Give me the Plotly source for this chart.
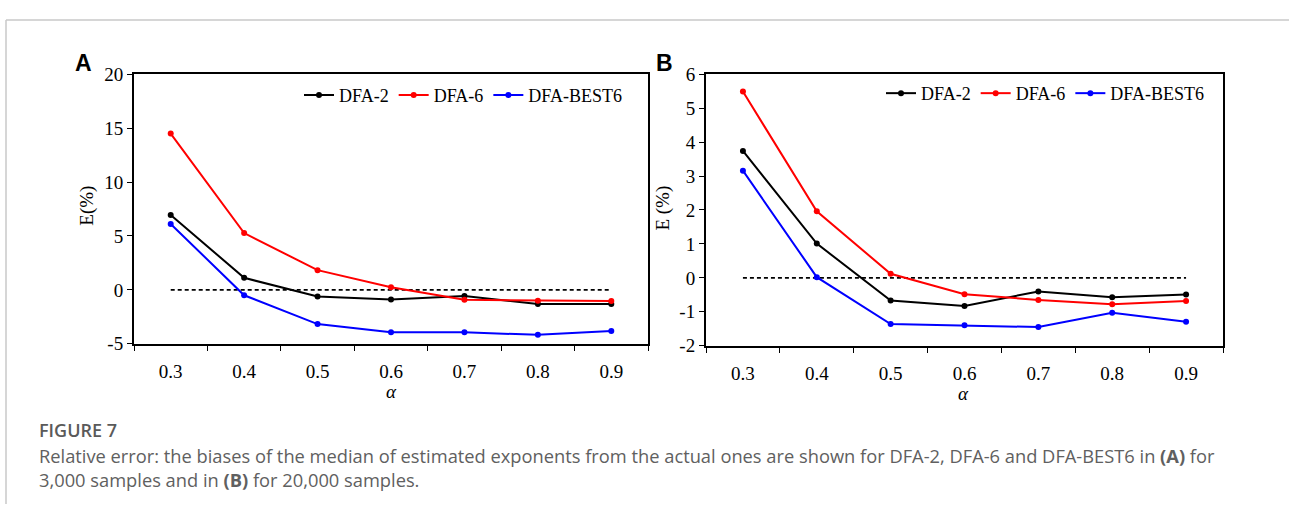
import plotly.graph_objects as go

alpha = [0.3, 0.4, 0.5, 0.6, 0.7, 0.8, 0.9]
alpha_labels = ["0.3", "0.4", "0.5", "0.6", "0.7", "0.8", "0.9"]
bounds = [0.25, 0.35, 0.45, 0.55, 0.65, 0.75, 0.85, 0.95]

# y ticks (hyphen minus as in the original)
a_yticks = [-5, 0, 5, 10, 15, 20]
a_ylabels = ["-5", "0", "5", "10", "15", "20"]
b_yticks = [-2, -1, 0, 1, 2, 3, 4, 5, 6]
b_ylabels = ["-2", "-1", "0", "1", "2", "3", "4", "5", "6"]

# Panel A (3,000 samples)
a_dfa2 = [6.95, 1.12, -0.62, -0.89, -0.56, -1.30, -1.30]
a_dfa6 = [14.5, 5.27, 1.83, 0.24, -0.92, -1.00, -1.04]
a_best6 = [6.12, -0.50, -3.17, -3.93, -3.93, -4.17, -3.82]

# Panel B (20,000 samples)
b_dfa2 = [3.74, 1.01, -0.67, -0.83, -0.40, -0.57, -0.49]
b_dfa6 = [5.49, 1.96, 0.12, -0.48, -0.65, -0.78, -0.68]
b_best6 = [3.16, 0.02, -1.36, -1.40, -1.45, -1.03, -1.29]

zero = [0, 0, 0, 0, 0, 0, 0]

names = ["DFA-2", "DFA-6", "DFA-BEST6"]
colors = ["#000000", "#ff0000", "#0000ff"]

SERIF = "Liberation Serif, Times New Roman, serif"
W, H = 1289, 515

def px_x(p):
    return p / W

def px_y(p):
    return 1 - p / H

fig = go.Figure()

for panel, (series, xa, ya, lg) in enumerate([
        ([a_dfa2, a_dfa6, a_best6], "x", "y", "legend"),
        ([b_dfa2, b_dfa6, b_best6], "x2", "y2", "legend2")]):
    fig.add_trace(go.Scatter(x=alpha, y=zero, mode="lines", xaxis=xa, yaxis=ya,
                             line=dict(color="black", width=1.6, dash="4px,3px"),
                             showlegend=False, hoverinfo="skip"))
    for vals, name, c in zip(series, names, colors):
        fig.add_trace(go.Scatter(x=alpha, y=vals, name=name, mode="lines+markers",
                                 xaxis=xa, yaxis=ya, legend=lg,
                                 line=dict(color=c, width=2),
                                 marker=dict(color=c, size=6)))

def xaxis_cfg(x0, x1, anchor):
    return dict(domain=[px_x(x0), px_x(x1)], range=[0.25, 0.95], anchor=anchor,
                tickmode="array", tickvals=alpha, ticktext=alpha_labels,
                ticks="outside", ticklen=9, tickcolor="rgba(0,0,0,0)",
                tickfont=dict(family=SERIF, size=19, color="black"),
                showgrid=False, zeroline=False, showline=True, mirror=True,
                linecolor="black", linewidth=2,
                minor=dict(tickmode="array", tickvals=bounds, ticks="outside",
                           ticklen=5, tickcolor="black", tickwidth=1, showgrid=False))

def yaxis_cfg(y0, y1, rng, tv, tt, anchor):
    return dict(domain=[px_y(y1), px_y(y0)], range=rng, anchor=anchor,
                tickmode="array", tickvals=tv, ticktext=tt,
                ticks="outside", ticklen=5, tickcolor="black",
                tickfont=dict(family=SERIF, size=19, color="black"),
                showgrid=False, zeroline=False, showline=True, mirror=True,
                linecolor="black", linewidth=2)

legend_common = dict(orientation="h", font=dict(family=SERIF, size=18, color="black"),
                     bgcolor="rgba(0,0,0,0)", itemwidth=30, tracegroupgap=0,
                     xanchor="right", yanchor="middle", xref="paper", yref="paper")

fig.update_layout(
    width=W, height=H, margin=dict(l=0, r=0, t=0, b=0),
    paper_bgcolor="white", plot_bgcolor="white",
    xaxis=xaxis_cfg(134, 648, "y"),
    yaxis=yaxis_cfg(67, 348, [-5, 20], a_yticks, a_ylabels, "x"),
    xaxis2=xaxis_cfg(706, 1223, "y2"),
    yaxis2=yaxis_cfg(67, 350, [-2, 6], b_yticks, b_ylabels, "x2"),
    legend=dict(x=px_x(628), y=px_y(89), **legend_common),
    legend2=dict(x=px_x(1210), y=px_y(87), **legend_common),
)

# outer frame lines
fig.add_shape(type="line", xref="paper", yref="paper", x0=px_x(6), x1=1, y0=px_y(10.5), y1=px_y(10.5),
              line=dict(color="#c8c8c8", width=1.5))
fig.add_shape(type="line", xref="paper", yref="paper", x0=px_x(6), x1=px_x(6), y0=0, y1=px_y(10.5),
              line=dict(color="#c8c8c8", width=1.5))

ann = []
ann.append(dict(text="<b>A</b>", x=px_x(83), y=px_y(55), font=dict(family="Liberation Sans, Arial", size=23, color="black")))
ann.append(dict(text="<b>B</b>", x=px_x(664), y=px_y(55), font=dict(family="Liberation Sans, Arial", size=23, color="black")))
ann.append(dict(text="E(%)", x=px_x(87), y=px_y(204), textangle=-90, font=dict(family=SERIF, size=19, color="black")))
ann.append(dict(text="E (%)", x=px_x(663), y=px_y(207), textangle=-90, font=dict(family=SERIF, size=19, color="black")))
ann.append(dict(text="<i>α</i>", x=px_x(391), y=px_y(398), font=dict(family=SERIF, size=19, color="black")))
ann.append(dict(text="<i>α</i>", x=px_x(963), y=px_y(400), font=dict(family=SERIF, size=19, color="black")))
for a in ann:
    a.update(xref="paper", yref="paper", showarrow=False, xanchor="center", yanchor="middle")
    fig.add_annotation(**a)

fig.add_annotation(text="FIGURE 7", xref="paper", yref="paper", x=px_x(37), y=px_y(438),
                   xanchor="left", yanchor="middle", showarrow=False,
                   font=dict(family="Open Sans", size=18, color="#5a5a5a", weight=600))
cap1 = ("Relative error: the biases of the median of estimated exponents from the actual ones are shown for "
        "DFA-2, DFA-6 and DFA-BEST6 in <b>(A)</b> for")
cap2 = "3,000 samples and in <b>(B)</b> for 20,000 samples."
for t, yy in [(cap1, 464), (cap2, 489)]:
    fig.add_annotation(text=t, xref="paper", yref="paper", x=px_x(37), y=px_y(yy),
                       xanchor="left", yanchor="middle", showarrow=False,
                       font=dict(family="Open Sans", size=18.3, color="#606060"))

fig.write_html("out.html")
